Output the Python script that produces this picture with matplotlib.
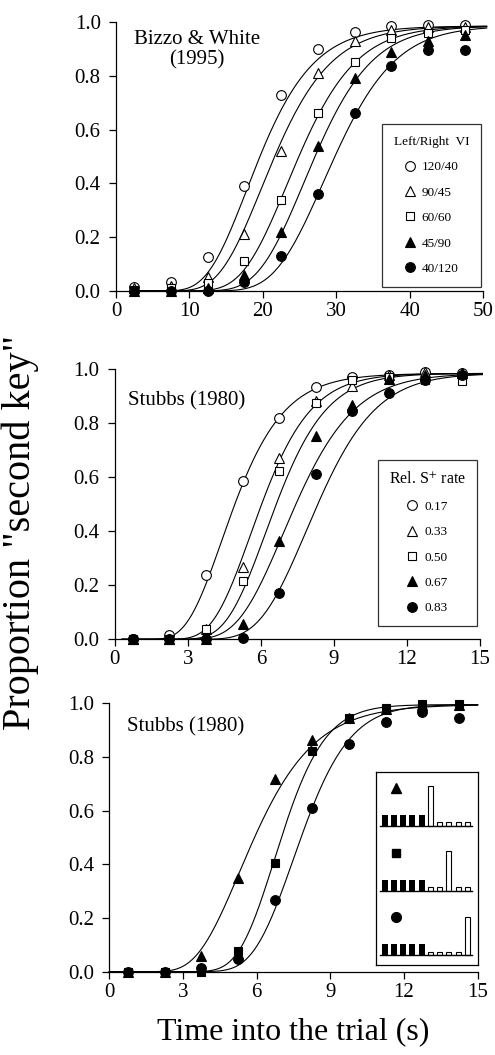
import math

import numpy as np
import matplotlib

matplotlib.use("Agg")
import matplotlib.pyplot as plt
from matplotlib.ticker import FormatStrFormatter

plt.rcParams["font.family"] = ["Liberation Serif", "DejaVu Serif"]
plt.rcParams["mathtext.fontset"] = "stix"

# --- panel 1: Bizzo & White (1995), Left/Right VI ---
p1_time = [2.5, 7.5, 12.5, 17.5, 22.5, 27.5, 32.5, 37.5, 42.5, 47.5]
p1_labels = ["120/40", "90/45", "60/60", "45/90", "40/120"]
vi_120_40 = [0.016, 0.035, 0.127, 0.39, 0.73, 0.90, 0.963, 0.984, 0.988, 0.988]
vi_90_45 = [0.01, 0.02, 0.053, 0.21, 0.52, 0.81, 0.93, 0.97, 0.98, 0.98]
vi_60_60 = [0.004, 0.01, 0.03, 0.11, 0.34, 0.66, 0.85, 0.94, 0.96, 0.97]
vi_45_90 = [0.0, 0.0, 0.01, 0.06, 0.22, 0.54, 0.79, 0.89, 0.93, 0.95]
vi_40_120 = [0.0, 0.0, 0.0, 0.035, 0.13, 0.36, 0.66, 0.835, 0.895, 0.897]
p1_median = [19.5, 21.5, 24.8, 27.0, 29.7]
p1_spread = [0.30, 0.285, 0.25, 0.23, 0.22]
p1_top = 0.985

# --- panel 2: Stubbs (1980), relative S+ rate ---
p2_time = [0.75, 2.25, 3.75, 5.25, 6.75, 8.25, 9.75, 11.25, 12.75, 14.25]
p2_labels = ["0.17", "0.33", "0.50", "0.67", "0.83"]
rel_017 = [0.0, 0.016, 0.24, 0.586, 0.82, 0.933, 0.973, 0.98, 0.99, 0.985]
rel_033 = [0.0, 0.0, 0.04, 0.267, 0.673, 0.883, 0.94, 0.98, 0.99, 0.985]
rel_050 = [0.0, 0.0, 0.04, 0.217, 0.623, 0.877, 0.96, 0.97, 0.96, 0.958]
rel_067 = [0.0, 0.0, 0.0, 0.056, 0.365, 0.753, 0.868, 0.963, 0.98, 0.985]
rel_083 = [0.0, 0.0, 0.0, 0.004, 0.173, 0.611, 0.846, 0.914, 0.96, 0.98]
p2_median = [4.9, 6.0, 6.6, 7.4, 8.3]
p2_spread = [0.33, 0.27, 0.25, 0.26, 0.23]
p2_top = 0.985

# --- panel 3: Stubbs (1980), position of the long interval ---
p3_time = [0.75, 2.25, 3.75, 5.25, 6.75, 8.25, 9.75, 11.25, 12.75, 14.25]
early_long = [0.0, 0.0, 0.058, 0.348, 0.718, 0.863, 0.944, 0.978, 0.994, 0.995]
middle_long = [0.0, 0.0, 0.0, 0.077, 0.406, 0.822, 0.944, 0.981, 0.996, 0.996]
late_long = [0.0, 0.0, 0.015, 0.046, 0.267, 0.611, 0.848, 0.932, 0.969, 0.944]
p3_median = [5.9, 7.0, 7.8]
p3_spread = [0.33, 0.20, 0.20]
p3_top = 0.995

# inset schematic: 5 filled bins then 5 open bins, one of them long
inset_filled = [11, 11, 11, 11, 11]
inset_open = [
    [40, 3.5, 3.5, 3.5, 3.5],
    [3.5, 3.5, 40, 3.5, 3.5],
    [3.5, 3.5, 3.5, 3.5, 38],
]

five_styles = [("o", "white"), ("^", "white"), ("s", "white"), ("^", "black"), ("o", "black")]
three_styles = [("^", "black"), ("s", "black"), ("o", "black")]

LW = 0.8
TICK_FS = 15


def fit_curve(t, median, spread, top):
    z = (np.log(t) - np.log(median)) / (spread * math.sqrt(2))
    return top * 0.5 * (1 + np.vectorize(math.erf)(z))


def marker_size(m):
    return 6.2 if m == "s" else 7


def style_axes(ax, xmax, xticks):
    ax.set_xlim(0, xmax)
    ax.set_ylim(0, 1)
    ax.spines["top"].set_visible(False)
    ax.spines["right"].set_visible(False)
    for side in ("left", "bottom"):
        ax.spines[side].set_linewidth(0.9)
    ax.set_xticks(xticks)
    ax.set_yticks(np.arange(0, 1.01, 0.2))
    ax.yaxis.set_major_formatter(FormatStrFormatter("%.1f"))
    ax.tick_params(axis="both", direction="out", length=5, width=0.9, labelsize=TICK_FS)
    ax.tick_params(axis="y", pad=6)
    ax.tick_params(axis="x", pad=3)


def draw_panel(ax, time, series, medians, spreads, top, styles, t_range):
    t = np.linspace(t_range[0], t_range[1], 300)
    for med, sp in zip(medians, spreads):
        ax.plot(t, fit_curve(t, med, sp, top), color="black", lw=LW, zorder=2, clip_on=False)
    handles = []
    for ys, (m, fc) in zip(series, styles):
        (h,) = ax.plot(time, ys, linestyle="none", marker=m, ms=marker_size(m),
                       mfc=fc, mec="black", mew=0.8, zorder=3, clip_on=False)
        handles.append(h)
    return handles


fig = plt.figure(figsize=(4.95, 10.55), dpi=100)

ax1 = fig.add_axes([0.2343, 0.7242, 0.7414, 0.2550])
ax2 = fig.add_axes([0.2317, 0.3940, 0.7380, 0.2559])
ax3 = fig.add_axes([0.2208, 0.0790, 0.7442, 0.2544])

h1 = draw_panel(ax1, p1_time, [vi_120_40, vi_90_45, vi_60_60, vi_45_90, vi_40_120],
                p1_median, p1_spread, p1_top, five_styles, (2.0, 50.5))
style_axes(ax1, 50, [0, 10, 20, 30, 40, 50])
ax1.text(11, 0.896, "Bizzo & White\n(1995)", ha="center", va="center",
         fontsize=15, linespacing=1.1)
leg1 = ax1.legend(h1, p1_labels, title="Left/Right  VI", loc="upper right",
                  bbox_to_anchor=(0.995, 0.621), borderaxespad=0, fontsize=9.5,
                  title_fontsize=9.5, frameon=True, fancybox=False, edgecolor="black",
                  handlelength=0.8, handletextpad=0.5, labelspacing=1.0, borderpad=0.9)
leg1.get_frame().set_linewidth(0.9)

h2 = draw_panel(ax2, p2_time, [rel_017, rel_033, rel_050, rel_067, rel_083],
                p2_median, p2_spread, p2_top, five_styles, (0.3, 15.1))
style_axes(ax2, 15, [0, 3, 6, 9, 12, 15])
ax2.text(0.55, 0.885, "Stubbs (1980)", ha="left", va="center", fontsize=15)
leg2 = ax2.legend(h2, p2_labels, title="Rel. S$^{+}$ rate", loc="upper right",
                  bbox_to_anchor=(0.992, 0.664), borderaxespad=0, fontsize=9.5,
                  title_fontsize=11.5, frameon=True, fancybox=False, edgecolor="black",
                  handlelength=0.8, handletextpad=0.5, labelspacing=1.0, borderpad=0.85)
leg2.get_frame().set_linewidth(0.9)

draw_panel(ax3, p3_time, [early_long, middle_long, late_long],
           p3_median, p3_spread, p3_top, three_styles, (0.0, 15.0))
style_axes(ax3, 15, [0, 3, 6, 9, 12, 15])
ax3.text(0.72, 0.912, "Stubbs (1980)", ha="left", va="center", fontsize=15)

# inset: schematic of the trial for each curve in panel 3
axi = fig.add_axes([0.7596, 0.0853, 0.2060, 0.1830])
axi.set_xlim(0, 102)
axi.set_ylim(0, 193)
axi.set_xticks([])
axi.set_yticks([])
for sp in axi.spines.values():
    sp.set_linewidth(0.9)
bins = 9 + 9.14 * np.arange(10)
for base, opens, (m, fc) in zip([139, 74, 10], inset_open, three_styles):
    axi.bar(bins[:5], inset_filled, width=6, bottom=base, color="black")
    axi.bar(bins[5:], opens, width=5, bottom=base, facecolor="white",
            edgecolor="black", linewidth=0.8)
    axi.plot([4, 96], [base, base], color="black", lw=1)
    axi.plot([20], [base + 38], linestyle="none", marker=m, ms=marker_size(m),
             mfc=fc, mec="black")

fig.text(0.04, 0.4957, 'Proportion "second key"', rotation=90, ha="center",
         va="center", fontsize=29)
fig.text(0.592, 0.0218, "Time into the trial (s)", ha="center", va="center",
         fontsize=23)

fig.savefig("out.png", dpi=100)
